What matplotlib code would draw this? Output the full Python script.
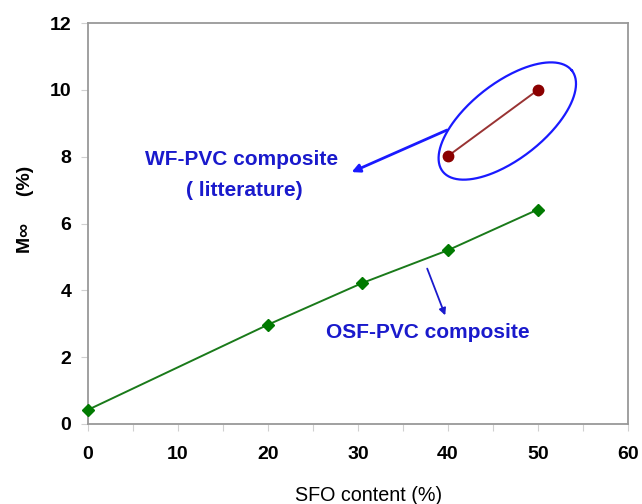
import numpy as np
import matplotlib
matplotlib.use("Agg")
import matplotlib.pyplot as plt

# Data
osf_x = [0, 20, 30.5, 40, 50]
osf_y = [0.42, 2.97, 4.22, 5.2, 6.42]
wf_x = [40, 50]
wf_y = [8.02, 10.0]
x_ticks = [0, 10, 20, 30, 40, 50, 60]
y_ticks = [0, 2, 4, 6, 8, 10, 12]

plt.rcParams['font.family'] = ['Liberation Sans', 'DejaVu Sans']

fig = plt.figure(figsize=(6.42, 5.04), dpi=100)
ax = fig.add_axes([0.137, 0.159, 0.841, 0.795])

ax.plot(osf_x, osf_y, color='#1a7a1a', lw=1.4, marker='D', ms=6,
        mfc='#007a00', mec='#007a00', zorder=3, clip_on=False)
ax.plot(wf_x, wf_y, color='#993333', lw=1.4, marker='o', ms=7.5,
        mfc='#8b0000', mec='#8b0000', zorder=3)

ax.set_xlim(0, 60)
ax.set_ylim(0, 12)
ax.set_xticks(x_ticks)
ax.set_xticks(np.arange(0, 61, 5), minor=True)
ax.set_yticks(y_ticks)

for s in ax.spines.values():
    s.set_color('#999999')
    s.set_linewidth(1.3)

ax.tick_params(axis='both', which='both', colors='#d0d0d0', labelcolor='black',
               labelsize=14, length=5, width=0.8)
ax.tick_params(axis='x', pad=11)
ax.tick_params(axis='y', pad=7)
for lab in ax.get_xticklabels() + ax.get_yticklabels():
    lab.set_fontweight('bold')

ax.set_xlabel('SFO content (%)', fontsize=14.2)
ax.xaxis.set_label_coords(0.52, -0.155)
ax.set_ylabel('M\u221e     (%)', fontsize=14, fontweight='bold')
ax.yaxis.set_label_coords(-0.10, 0.536)

# Ellipse around literature data (drawn in pixel-like units)
sx = 540.0 / 60  # px per x unit
sy = 401.0 / 12  # px per y unit
cx, cy = 46.6, 9.07
a, b, th = 82, 38, np.deg2rad(38)
t = np.linspace(0, 2 * np.pi, 300)
ex = cx + (a * np.cos(th) * np.cos(t) - b * np.sin(th) * np.sin(t)) / sx
ey = cy + (a * np.sin(th) * np.cos(t) + b * np.cos(th) * np.sin(t)) / sy
ax.plot(ex, ey, color='#1a1aff', lw=1.6, zorder=2)

blue = '#1a1acc'
ax.annotate('', xy=(29.3, 7.54), xytext=(39.9, 8.8),
            arrowprops=dict(arrowstyle='-|>', color='#1a1aff', lw=2.0,
                            mutation_scale=12, shrinkA=0, shrinkB=0))
ax.annotate('', xy=(39.7, 3.25), xytext=(37.7, 4.65),
            arrowprops=dict(arrowstyle='-|>', color='#1a1acc', lw=1.3,
                            mutation_scale=10, shrinkA=0, shrinkB=0))

ax.text(17.1, 7.93, 'WF-PVC composite', color=blue, fontsize=15,
        fontweight='bold', ha='center', va='center')
ax.text(17.4, 7.0, '( litterature)', color=blue, fontsize=15,
        fontweight='bold', ha='center', va='center')
ax.text(37.8, 2.75, 'OSF-PVC composite', color=blue, fontsize=15,
        fontweight='bold', ha='center', va='center')

fig.savefig('out.png', dpi=100)
